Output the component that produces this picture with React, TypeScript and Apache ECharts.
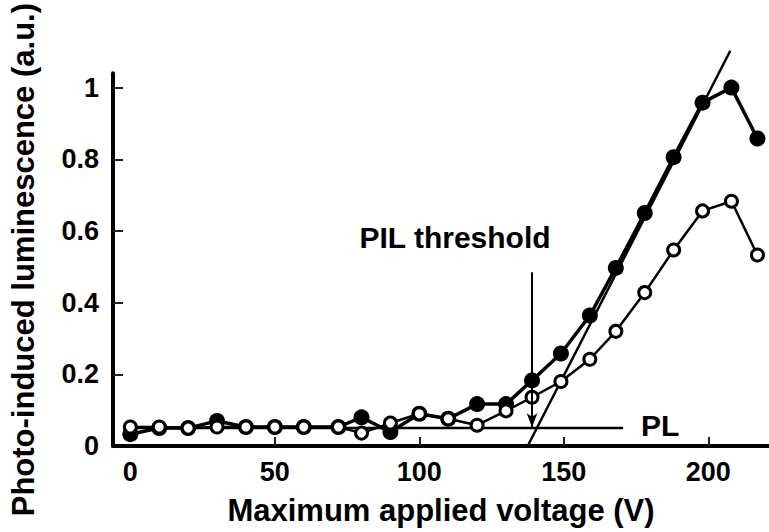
import React, { useEffect, useRef } from "react";
import * as echarts from "echarts";

// Maximum applied voltage (V) for each measurement
const voltage = [0, 10, 20, 30, 40, 50, 60, 72, 80, 90, 100, 110, 120, 130, 139, 149, 159, 168, 178, 188, 198, 208, 217];
// Filled circles
const filledPIL = [0.033, 0.05, 0.05, 0.07, 0.053, 0.053, 0.053, 0.053, 0.08, 0.039, 0.09, 0.076, 0.117, 0.117, 0.183, 0.258, 0.364, 0.497, 0.65, 0.806, 0.958, 1.0, 0.858];
// Open circles
const openPIL = [0.053, 0.053, 0.05, 0.053, 0.053, 0.053, 0.053, 0.053, 0.036, 0.064, 0.09, 0.076, 0.058, 0.098, 0.136, 0.18, 0.242, 0.32, 0.428, 0.547, 0.656, 0.683, 0.533];

// Annotation lines (data coordinates)
const tangentX = [137.5, 207.6];
const tangentY = [0, 1.103];
const plLineX = [0, 170.5];
const plLineY = [0.05, 0.05];
const arrowX = 139;
const arrowY = [0.485, 0.052];

const xTicks = [0, 50, 100, 150, 200];
const yTicks = [0, 0.2, 0.4, 0.6, 0.8, 1];

const FONT = "'Liberation Sans', Arial, Helvetica, sans-serif";

export default function App() {
  const ref = useRef<HTMLDivElement>(null);
  useEffect(() => {
    if (!ref.current) return;
    const chart = echarts.init(ref.current, null, { renderer: "svg" });
    const pair = (xs: number[], ys: number[]) => xs.map((x, i) => [x, ys[i]]);
    chart.setOption({
      animation: false,
      backgroundColor: "#fff",
      grid: { left: 113, right: 0, top: 73, bottom: 86, containLabel: false },
      xAxis: {
        type: "value",
        min: -6,
        max: 221,
        name: "Maximum applied voltage (V)",
        nameLocation: "middle",
        nameGap: 49,
        nameTextStyle: { fontFamily: FONT, fontWeight: "bold", fontSize: 31, color: "#000" },
        axisLine: { show: true, onZero: false, lineStyle: { color: "#000", width: 4 } },
        axisTick: {
          show: true,
          inside: true,
          length: 9,
          customValues: xTicks.filter((v) => v > 0),
          lineStyle: { color: "#222", width: 2 },
        },
        axisLabel: {
          customValues: xTicks,
          fontFamily: FONT,
          fontWeight: "bold",
          fontSize: 27,
          color: "#000",
          margin: 12,
        },
        splitLine: { show: false },
      },
      yAxis: {
        type: "value",
        min: 0,
        max: 1.04,
        name: "Photo-induced luminescence (a.u.)",
        nameLocation: "middle",
        nameRotate: 90,
        nameGap: 74,
        nameTextStyle: { fontFamily: FONT, fontWeight: "bold", fontSize: 31, color: "#000" },
        axisLine: { show: true, onZero: false, lineStyle: { color: "#000", width: 4 } },
        axisTick: {
          show: true,
          inside: true,
          length: 10,
          customValues: yTicks.filter((v) => v > 0),
          lineStyle: { color: "#222", width: 2 },
        },
        axisLabel: {
          customValues: yTicks,
          fontFamily: FONT,
          fontWeight: "bold",
          fontSize: 27,
          color: "#000",
          margin: 14,
        },
        splitLine: { show: false },
      },
      graphic: [
        {
          type: "text",
          x: 455,
          y: 237,
          style: {
            text: "PIL threshold",
            fontFamily: FONT,
            fontWeight: "bold",
            fontSize: 30,
            fill: "#000",
            textAlign: "center",
            textVerticalAlign: "middle",
          },
        },
        {
          type: "text",
          x: 641,
          y: 425,
          style: {
            text: "PL",
            fontFamily: FONT,
            fontWeight: "bold",
            fontSize: 30,
            fill: "#000",
            textAlign: "left",
            textVerticalAlign: "middle",
          },
        },
      ],
      series: [
        {
          type: "line",
          data: pair(tangentX, tangentY),
          symbol: "none",
          clip: false,
          silent: true,
          lineStyle: { color: "#000", width: 2.5 },
          z: 1,
        },
        {
          type: "line",
          data: pair(plLineX, plLineY),
          symbol: "none",
          silent: true,
          lineStyle: { color: "#000", width: 2.5 },
          z: 1,
          markLine: {
            silent: true,
            symbol: ["none", "arrow"],
            symbolSize: [8, 14],
            label: { show: false },
            lineStyle: { color: "#000", width: 2, type: "solid" },
            data: [[{ coord: [arrowX, arrowY[0]] }, { coord: [arrowX, arrowY[1]] }]],
          },
        },
        {
          type: "line",
          data: pair(voltage, filledPIL),
          symbol: "circle",
          symbolSize: 16,
          itemStyle: { color: "#000" },
          lineStyle: { color: "#000", width: 3.5 },
          z: 2,
        },
        {
          type: "line",
          data: pair(voltage, openPIL),
          symbol: "circle",
          symbolSize: 12,
          itemStyle: { color: "#fff", borderColor: "#000", borderWidth: 3 },
          lineStyle: { color: "#000", width: 2.5 },
          z: 3,
        },
      ],
    });
    return () => chart.dispose();
  }, []);
  return (
    <div
      ref={ref}
      style={{ position: "absolute", left: 0, top: 0, width: 769, height: 532 }}
    />
  );
}
